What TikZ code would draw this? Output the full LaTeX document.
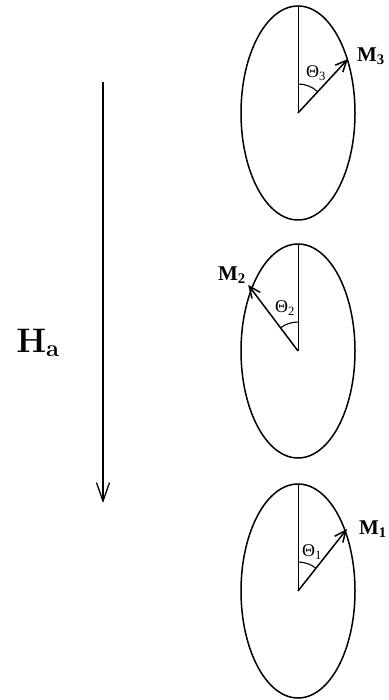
\documentclass[tikz,border=0pt]{standalone}
\usepackage{fontspec}
\newfontfamily\timesf{Liberation Serif}
\usetikzlibrary{arrows.meta,calc}
\tikzset{
  grain/.style={line width=1.5pt},
  easy/.style={line width=0.8pt},
  mvec/.style={-{Straight Barb[length=4mm,width=3.6mm,line width=1.5pt]}, line width=1.5pt},
  field/.style={-{Straight Barb[length=6.5mm,width=4.6mm]}, line width=1.3pt},
  angarc/.style={line width=1.1pt},
  mlab/.style={font=\timesf\fontsize{21}{21}\selectfont\bfseries, inner sep=0pt},
  tlab/.style={font=\timesf\fontsize{18}{18}\selectfont, inner sep=0pt},
}
\begin{document}
\begin{tikzpicture}[x=1pt, y=1pt]
  \useasboundingbox (0,0) rectangle (388,700);
  % grains: name / centre y / tilt from easy axis / vector length / label pos / theta pos
  \foreach \n/\cy/\ang/\len/\mx/\my/\tx/\ty in {3/587/-42.8/73.6/371/644/316/627,
                                                2/349/37/82.8/232/425/285/392,
                                                1/109/-38.3/79/373/171/312/148}{
    \coordinate (g\n) at (298,\cy);
    \draw[grain] (g\n) ellipse [x radius=57, y radius=107];
    \coordinate (e\n) at ($(g\n)+(0,107)$);
    \draw[easy] (g\n) -- (e\n);
    \coordinate (m\n) at ($(g\n)+(90+\ang:\len)$);
    \draw[mvec] (g\n) -- (m\n);
    \draw[angarc] ($(g\n)+(90:29)$) arc[start angle=90, delta angle=\ang, radius=29];
    \node[mlab] (lm\n) at (\mx,\my) {M\textsubscript{\n}};
    \node[tlab] (lt\n) at (\tx,\ty) {Θ\textsubscript{\n}};
  }
  % applied field
  \coordinate (ht) at (103,618);
  \coordinate (hb) at (103,197);
  \draw[field] (ht) -- (hb);
  \node[font=\fontsize{34}{34}\selectfont\bfseries] (ha) at (38,357) {H\textsubscript{a}};
\end{tikzpicture}
\end{document}
